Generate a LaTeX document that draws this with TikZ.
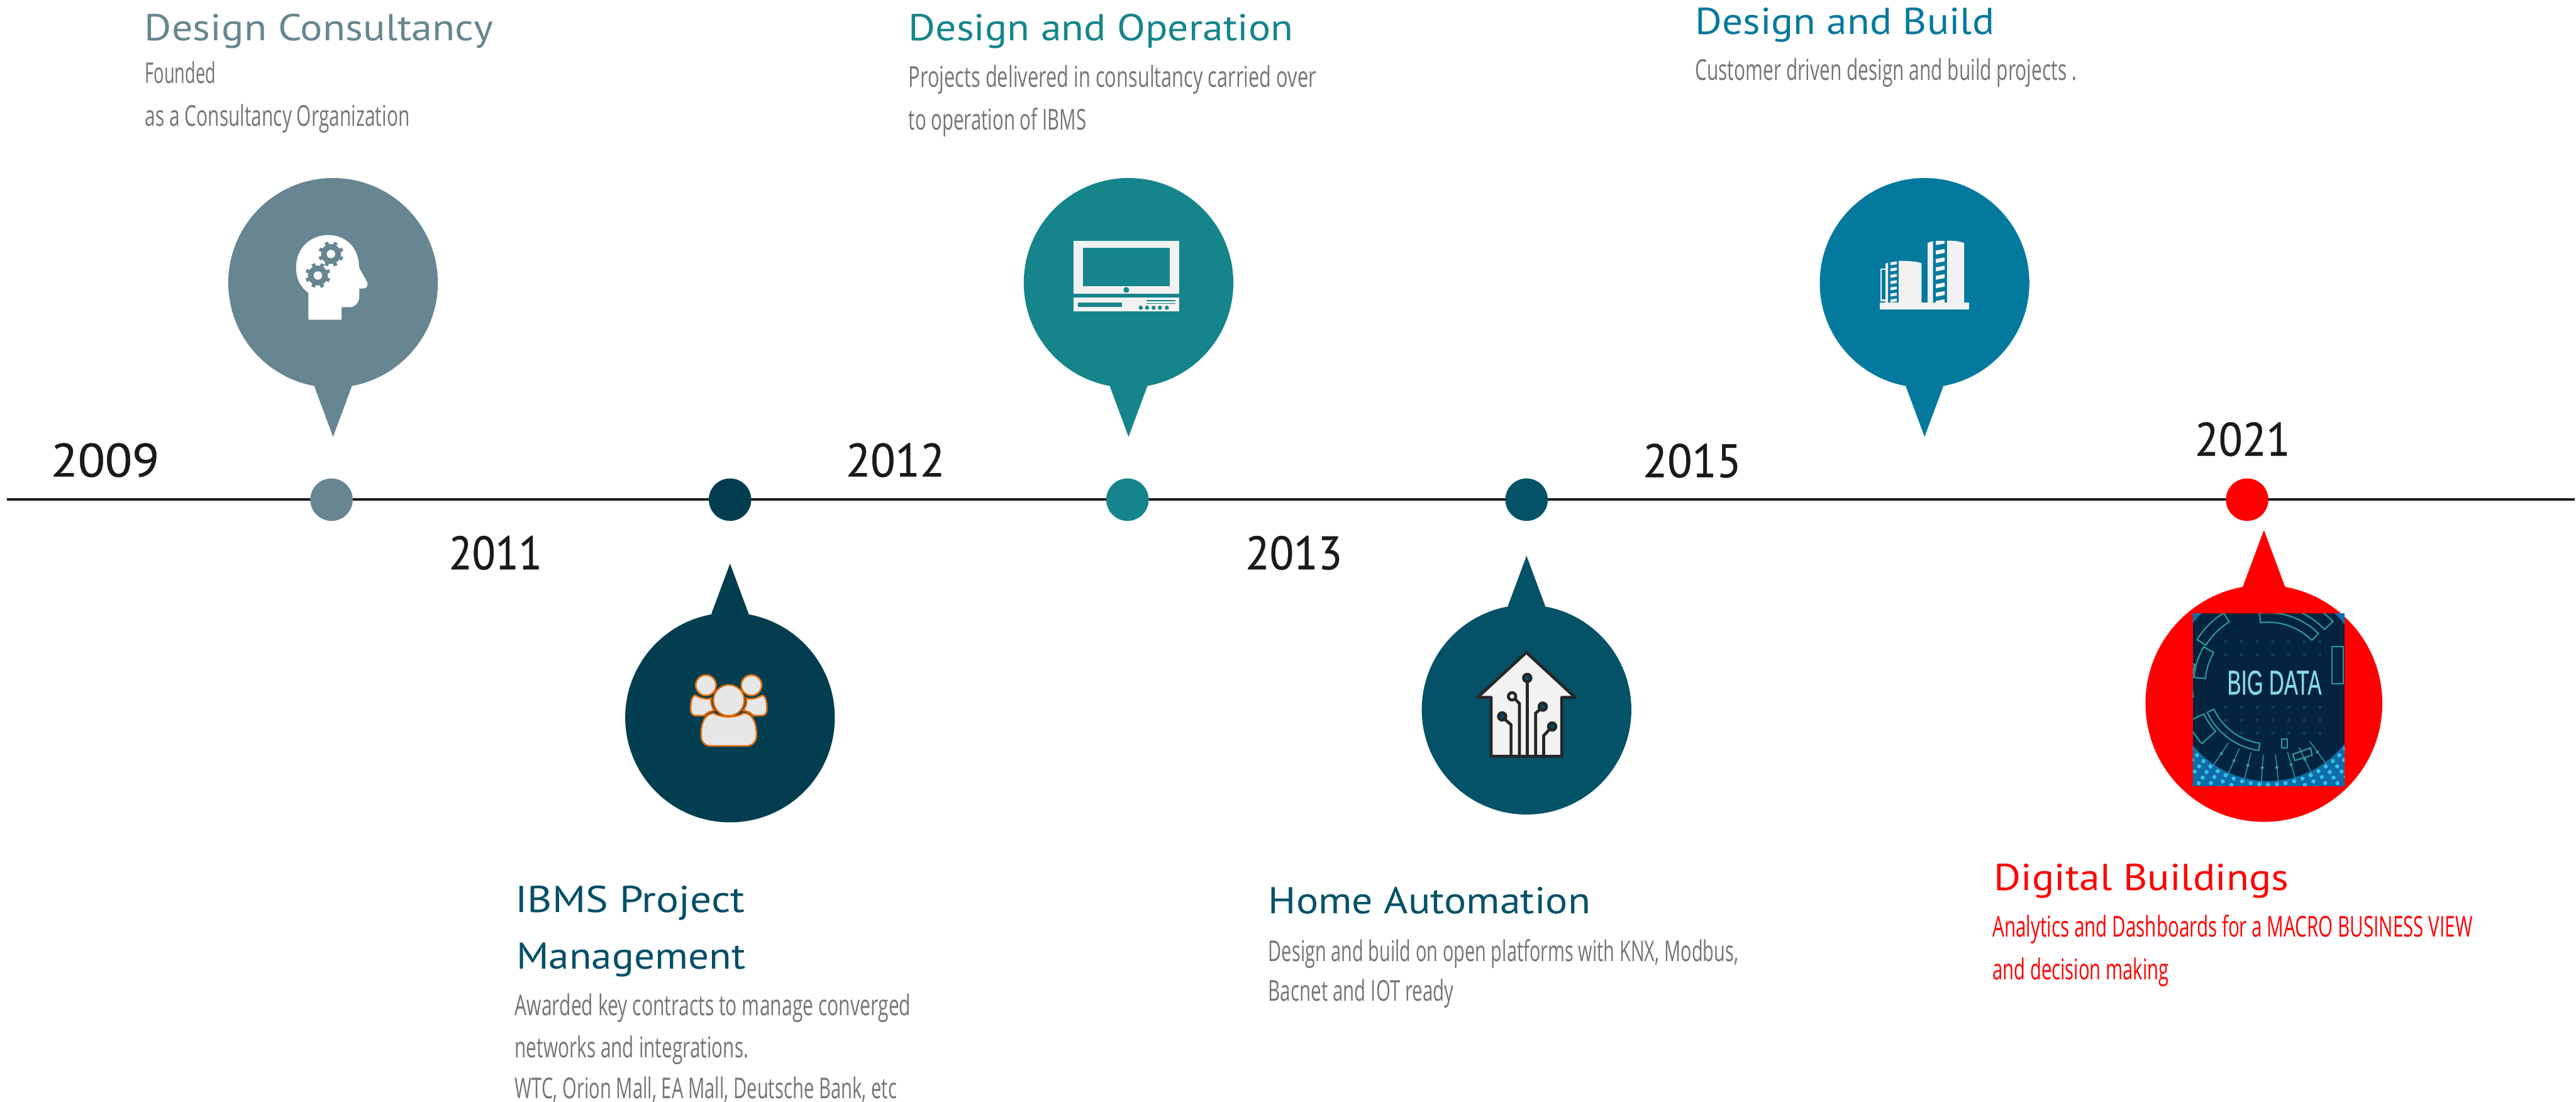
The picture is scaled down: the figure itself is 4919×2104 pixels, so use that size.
\documentclass[tikz,border=0pt]{standalone}
\usepackage{graphicx}
\usepackage{fontspec}
\usetikzlibrary{calc}
\newfontfamily\titlef{PT Sans}
\newfontfamily\bodyf{Open Sans}
\newfontfamily\yearf[FakeBold=0.6]{PT Sans}
\newfontfamily\bdf[FakeBold=0.8]{Liberation Sans}
\definecolor{cA}{HTML}{678691}
\definecolor{cB}{HTML}{033E50}
\definecolor{cBt}{HTML}{024F67}
\definecolor{cC}{HTML}{15858B}
\definecolor{cD}{HTML}{035268}
\definecolor{cE}{HTML}{04799E}
\definecolor{cF}{HTML}{FF0000}
\definecolor{lite}{HTML}{F2F2F2}
\definecolor{bodygray}{HTML}{757575}
\definecolor{yearblack}{HTML}{1A1A1A}
\definecolor{orangeedge}{HTML}{E36C0A}
\definecolor{peoplefill}{HTML}{E7E7E7}
\definecolor{housedark}{HTML}{262626}
\definecolor{bdnavy}{HTML}{04233F}
\definecolor{bdblue}{HTML}{0F6CA8}
\definecolor{bdteal}{HTML}{2F9A9E}
\definecolor{bdtext}{HTML}{86D8E6}
\definecolor{bdgrid}{HTML}{0C3F63}
\definecolor{bdcyan}{HTML}{35C3E0}
\newsavebox\fitbox
\newcommand\fit[2]{\sbox\fitbox{#2}\pgfmathsetmacro\fitr{#1*0.28453/\the\wd\fitbox}\scalebox{\fitr}[1]{\usebox\fitbox}}
\newcommand\lbl[6]{\node[txt,#5] (#1) at (#2,#3) {\fit{#4}{#6}};}
\newcommand\bubble[8]{% name, cx, cy, diam(cm), basey, halfw, tipy, colour
  \fill[#8] (#2-#6,#5) -- (#2+#6,#5) -- (#2,#7) -- cycle;
  \node[blob,minimum size=#4cm,fill=#8] (#1) at (#2,#3) {};}
\newcommand\gear[2]{%
  \fill[cA] (#1,#2) circle[radius=0.19cm];
  \foreach \a in {0,45,90,135} {\fill[cA,rotate around={\a+22:(#1,#2)}] (#1-3.5,#2-24) rectangle (#1+3.5,#2+24);}
  \fill[white] (#1,#2) circle[radius=0.08cm];}
\newcommand\bdseg[4]{\draw[bdteal,line width=0.7pt] ($(bdc)+(#1:#3)$) arc[start angle=#1,end angle=#2,radius=#3] -- ($(bdc)+(#2:#4)$) arc[start angle=#2,end angle=#1,radius=#4] -- cycle;}
\tikzset{
  blob/.style={circle,inner sep=0pt,outer sep=0pt,draw=none},
  tdot/.style={circle,inner sep=0pt,outer sep=0pt,minimum size=0.81cm},
  txt/.style={anchor=base west,inner sep=0pt,outer sep=0pt},
  ttl/.style={font=\titlef\fontsize{20.3}{24}\selectfont},
  bod/.style={font=\bodyf\fontsize{15.6}{19}\selectfont,text=bodygray},
  yr/.style={font=\yearf\fontsize{25.5}{30}\selectfont,text=yearblack},
  zA/.style={x=0.003333cm,y=-0.004337cm},
  zB/.style={x=0.003333cm,y=-0.003509cm},
  pers/.style={fill=peoplefill,draw=orangeedge,line width=0.85pt},
  trace/.style={draw=housedark,line width=1.6pt},
  tip/.style={draw=housedark,line width=1.6pt,fill=cD},
}
\begin{document}
\begin{tikzpicture}[x=0.01cm,y=-0.01cm]
\useasboundingbox (0,0) rectangle (4919,2104);
\fill[white] (0,0) rectangle (4919,2104);
% timeline
\coordinate (tlstart) at (13,954);
\coordinate (tlend) at (4916,954);
\draw[yearblack,line width=1.3pt] (tlstart) -- (tlend);
\node[tdot,fill=cA] (d1) at (633,954) {};
\node[tdot,fill=cB] (d2) at (1394,954) {};
\node[tdot,fill=cC] (d3) at (2153,954) {};
\node[tdot,fill=cD] (d4) at (2915,954) {};
\node[tdot,fill=cF] (d6) at (4291,954) {};
% bubbles
\bubble{b1}{636}{540}{4}{737}{36}{834}{cA}
\bubble{b2}{1394}{1370}{4}{1173}{36}{1076}{cB}
\bubble{b3}{2155}{540}{4}{737}{36}{834}{cC}
\bubble{b4}{2915}{1355}{4}{1158}{36}{1061}{cD}
\bubble{b5}{3675}{540}{4}{737}{36}{834}{cE}
\bubble{b6}{4323}{1343}{4.52}{1122}{41}{1012}{cF}
% head icon
\begin{scope}[shift={(400,320)},zA]
\fill[white] (568,552) .. controls (520,525) and (497,490) .. (497,440) .. controls (497,350) and (585,297) .. (680,297) .. controls (780,297) and (858,350) .. (858,440) -- (905,505) .. controls (912,520) and (900,532) .. (885,532) -- (860,532) -- (860,565) .. controls (860,595) and (835,615) .. (800,615) -- (758,615) -- (758,670) -- (568,670) -- cycle;
\end{scope}
\gear{632}{485}
\gear{607}{526}
% people icon
\begin{scope}[shift={(1150,1052)},zB]
\path[pers] (535,785) .. controls (560,800) and (600,810) .. (625,800) .. controls (620,830) and (630,850) .. (643,868) .. controls (615,870) and (600,880) .. (585,895) -- (540,895) .. controls (515,895) and (507,880) .. (507,860) .. controls (507,830) and (512,785) .. (535,785) -- cycle;
\path[pers] (917,785) .. controls (892,800) and (852,810) .. (827,800) .. controls (832,830) and (822,850) .. (809,868) .. controls (837,870) and (852,880) .. (867,895) -- (912,895) .. controls (937,895) and (945,880) .. (945,860) .. controls (945,830) and (940,785) .. (917,785) -- cycle;
\path[pers] (595,730) circle[radius=0.195cm];
\path[pers] (856,730) circle[radius=0.195cm];
\path[pers] (726,812) circle[radius=0.295cm];
\path[pers] (640,882) .. controls (680,908) and (770,908) .. (810,882) .. controls (860,880) and (885,930) .. (885,1000) .. controls (885,1040) and (860,1060) .. (825,1060) -- (625,1060) .. controls (590,1060) and (567,1040) .. (567,1000) .. controls (567,930) and (590,885) .. (640,882) -- cycle;
\end{scope}
% monitor icon
\begin{scope}[shift={(1930,320)},zB]
\fill[lite] (360,397) rectangle (967,685);
\fill[cC] (415,437) rectangle (912,645);
\fill[cC] (663,665) circle[radius=0.055cm];
\fill[lite] (360,706) rectangle (967,782);
\fill[cC] (384,733) rectangle (638,756);
\fill[cC] (779,721) rectangle (946,727);
\fill[cC] (779,736) rectangle (946,742);
\foreach \p in {746,782,820,856,896} {\fill[cC] (\p,762) circle[radius=0.04cm];}
\end{scope}
% house icon
\begin{scope}[shift={(2680,1050)},zB]
\draw[housedark,fill=lite,line width=1.6pt,line join=round] (425,802) -- (705,557) -- (985,802) -- (908,802) -- (908,1122) -- (503,1122) -- (503,802) -- cycle;
\draw[trace] (710,1122) -- (710,720);
\draw[trace] (617,1122) -- (617,950) -- (580,920);
\draw[trace] (665,1122) -- (665,835) -- (640,810);
\draw[trace] (758,1122) -- (758,888) -- (785,865);
\draw[trace] (804,1122) -- (804,1010) -- (838,975);
\path[tip] (710,696) circle[radius=0.07cm];
\path[tip] (566,905) circle[radius=0.07cm];
\path[tip,fill=white] (623,796) circle[radius=0.07cm];
\path[tip] (799,852) circle[radius=0.07cm];
\path[tip] (853,960) circle[radius=0.07cm];
\end{scope}
% buildings icon
\begin{scope}[shift={(3450,320)},zB]
\fill[lite] (418,735) rectangle (933,772);
\fill[lite] (805,397) .. controls (850,397) and (885,402) .. (903,410) -- (903,735) -- (805,735) -- cycle;
\fill[lite] (694,410) .. controls (702,405) and (712,403) .. (725,400) -- (725,735) -- (694,735) -- cycle;
\fill[lite] (741,398) -- (791,398) -- (791,413) -- (741,421) -- cycle;
\foreach \r in {442,488,533,579,625,671} {\fill[lite] (741,\r+9) -- (791,\r) -- (791,\r+22) -- (741,\r+31) -- cycle;}
\fill[lite] (741,725) -- (791,716) -- (791,735) -- (741,735) -- cycle;
\fill[lite] (528,507) .. controls (580,507) and (635,510) .. (659,520) -- (659,735) -- (528,735) -- cycle;
\fill[lite] (452,522) -- (467,517) -- (467,735) -- (452,735) -- cycle;
\foreach \r in {510,543,578,612,646,680,712} {\fill[lite] (480,\r+5) -- (516,\r) -- (516,\r+16) -- (480,\r+21) -- cycle;}
\draw[lite,line width=0.8pt] (450,553) -- (427,553) -- (427,722) -- (450,722);
\end{scope}
% big data picture
\coordinate (bdc) at (4331,1306);
\begin{scope}
\clip (4187,1171) rectangle (4477,1500);
\fill[bdnavy] (4187,1171) rectangle (4477,1500);
\foreach \gx in {4250,4280,4310,4340,4370,4400,4430} {\foreach \gy in {1225,1250,1350,1375,1400} {\fill[bdgrid] (\gx,\gy) circle[radius=0.035cm];}}
\fill[bdblue,even odd rule] (bdc) circle[radius=1.85cm] (bdc) circle[radius=3.4cm];
\foreach \a in {200,205,...,340} {\foreach \rr in {1.92,2.05,2.18,2.31,2.44,2.57} {\fill[bdcyan] ($(bdc)+(\a:\rr cm)$) circle[radius=0.04cm];}}
\bdseg{97}{45}{1.18cm}{1.36cm}
\bdseg{70}{44}{1.5cm}{1.72cm}
\bdseg{148}{122}{1.4cm}{1.6cm}
\bdseg{175}{150}{1.2cm}{1.42cm}
\bdseg{190}{165}{1.45cm}{1.75cm}
\bdseg{262}{205}{1.14cm}{1.28cm}
\bdseg{222}{205}{1.35cm}{1.7cm}
\foreach \a in {236,246,...,306} {\draw[bdteal,line width=0.5pt] ($(bdc)+(\a:1.35cm)$) -- ($(bdc)+(\a:1.9cm)$); \fill[bdteal] ($(bdc)+(\a:1.6cm)$) circle[radius=0.03cm];}
\draw[bdteal,line width=0.7pt] (4453,1235) rectangle (4475,1305);
\draw[bdteal,line width=0.7pt] (4357,1411) rectangle (4368,1428);
\draw[bdteal,line width=0.7pt] (4378,1440) -- (4412,1428) -- (4415,1442) -- (4382,1452) -- cycle;
\end{scope}
\lbl{bdtxt}{4253}{1326}{180}{font=\bdf\fontsize{18.6}{22}\selectfont,text=bdtext}{BIG DATA}
% years
\lbl{y09}{97}{910}{207}{yr}{2009}
\lbl{y11}{857}{1087}{178}{yr}{2011}
\lbl{y12}{1615}{910}{189}{yr}{2012}
\lbl{y13}{2378}{1087}{185}{yr}{2013}
\lbl{y15}{3137}{911}{188}{yr}{2015}
\lbl{y21}{4191}{870}{182}{yr}{2021}
% titles and descriptions
\lbl{t1}{276}{77}{665}{ttl,text=cA}{Design Consultancy}
\lbl{t1a}{277}{159}{135}{bod}{Founded}
\lbl{t1b}{277}{241}{505}{bod}{as a Consultancy Organization}
\lbl{t2}{984}{1742}{438}{ttl,text=cBt}{IBMS Project}
\lbl{t2m}{986}{1850}{437}{ttl,text=cBt}{Management}
\lbl{t2a}{983}{1939}{756}{bod}{Awarded key contracts to manage converged}
\lbl{t2b}{983}{2019}{446}{bod}{networks and integrations.}
\lbl{t2c}{983}{2098}{729}{bod}{WTC, Orion Mall, EA Mall, Deutsche Bank, etc}
\lbl{t3}{1735}{78}{734}{ttl,text=cC}{Design and Operation}
\lbl{t3a}{1735}{166}{778}{bod}{Projects delivered in consultancy carried over}
\lbl{t3b}{1735}{248}{339}{bod}{to operation of IBMS}
\lbl{t4}{2422}{1744}{615}{ttl,text=cD}{Home Automation}
\lbl{t4a}{2422}{1836}{897}{bod}{Design and build on open platforms with KNX, Modbus,}
\lbl{t4b}{2422}{1911}{354}{bod}{Bacnet and IOT ready}
\lbl{t5}{3237}{66}{571}{ttl,text=cE}{Design and Build}
\lbl{t5a}{3237}{153}{728}{bod}{Customer driven design and build projects .}
\lbl{t6}{3808}{1700}{562}{ttl,text=cF}{Digital Buildings}
\lbl{t6a}{3805}{1789}{916}{bod,text=cF}{Analytics and Dashboards for a MACRO BUSINESS VIEW}
\lbl{t6b}{3805}{1871}{336}{bod,text=cF}{and decision making}
\end{tikzpicture}
\end{document}
